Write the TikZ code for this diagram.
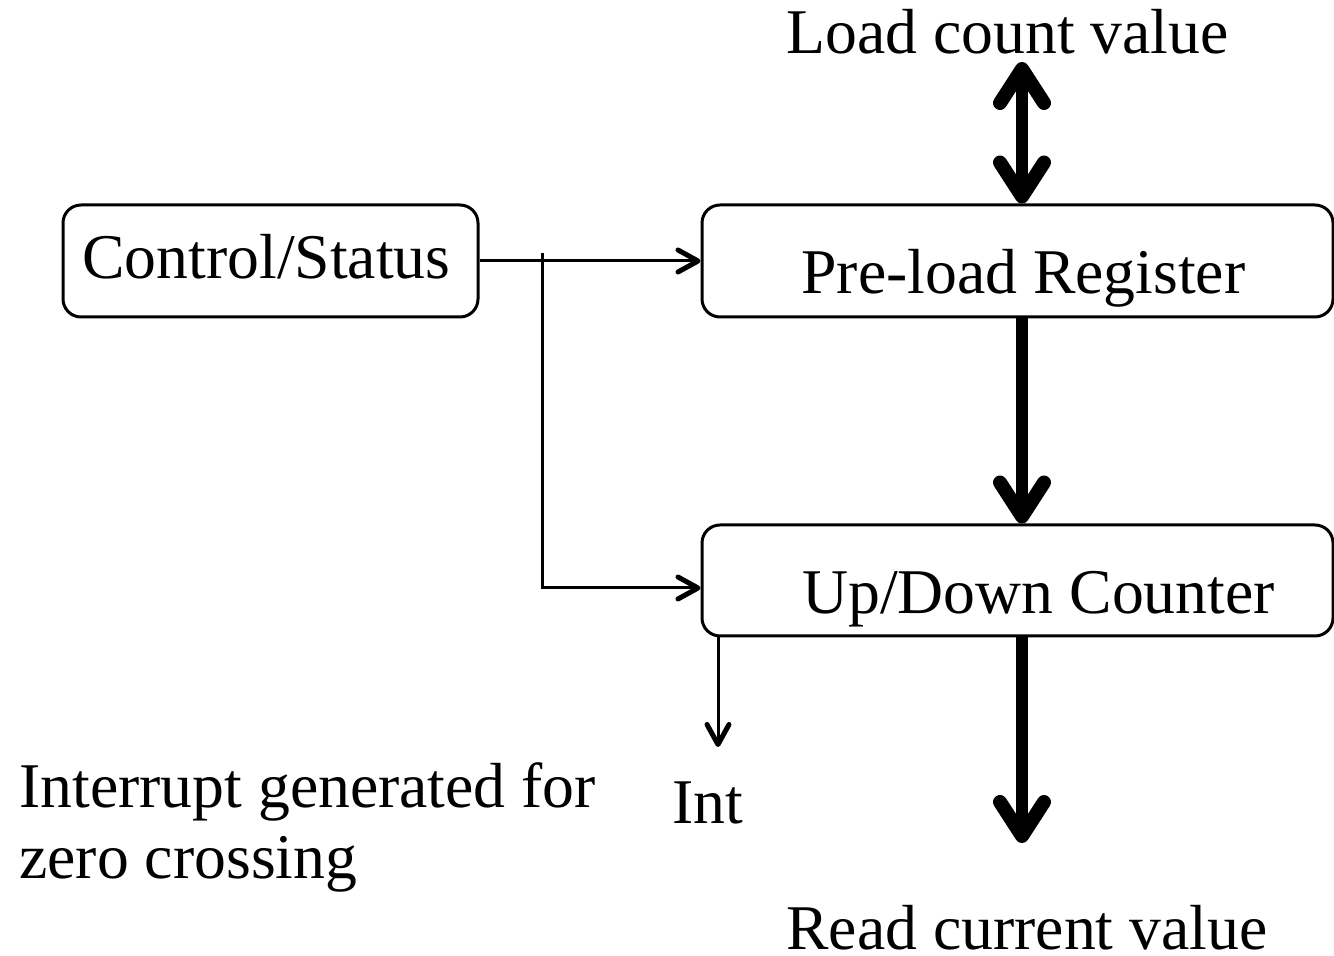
\documentclass[tikz,border=0pt]{standalone}
\usepackage{fontspec}
\setmainfont{Liberation Serif}
\usetikzlibrary{arrows.meta}
\tikzset{
  box/.style={draw, line width=1.5pt, rounded corners=9pt, inner sep=0pt},
  txt/.style={inner sep=0pt, anchor=base west,
    font=\fontsize{31.85pt}{35.5pt}\selectfont},
  thinlink/.style={line width=1.5pt,
    -{Straight Barb[length=10pt,width=11pt,line width=2.5pt,round]}},
  buslink/.style={line width=6pt,
    -{Straight Barb[length=17pt,width=22pt,line width=7pt,round]}},
  busboth/.style={line width=6pt,
    {Straight Barb[length=17pt,width=22pt,line width=7pt,round]}-{Straight Barb[length=17pt,width=22pt,line width=7pt,round]}},
}
\begin{document}
\begin{tikzpicture}[x=0.5pt,y=-0.5pt]
\useasboundingbox (0,0) rectangle (1334,956);

% blocks
\node[box, minimum width=207.5pt, minimum height=56pt] (ctrl) at (270.5,261) {};
\node[box, minimum width=315.5pt, minimum height=56pt] (pre) at (1017.5,261) {};
\node[box, minimum width=315.5pt, minimum height=55.5pt] (cnt) at (1017.5,580.5) {};

% block captions
\node[txt] (ctrltxt) at (82,279) {Control/Status};
\node[txt] (pretxt) at (801,294) {Pre-load Register};
\node[txt] (cnttxt) at (802,614) {Up/Down Counter};

% free texts
\node[txt] (loadtxt) at (786,54) {Load count value};
\node[txt] (readtxt) at (786,949) {Read current value};
\node[txt] (inttxt) at (672,823) {Int};
\node[txt, align=left] (irqtxt) at (19,878) {Interrupt generated for\\zero crossing};

% free ends of connectors
\coordinate (loadtip) at (1022,62);
\coordinate (readtip) at (1022,843);
\coordinate (branch) at (542,253);
\coordinate (inttip) at (718,747);

% control lines
\draw[thinlink] (ctrl) -- (pre);
\draw[thinlink] (branch) |- ([yshift=-3.75pt]cnt.west);
\draw[thinlink] (inttip |- cnt.south) -- (inttip);

% data buses
\draw[busboth] (loadtip) -- (loadtip |- pre.north);
\draw[buslink] (loadtip |- pre.south) -- (loadtip |- cnt.north);
\draw[buslink] (loadtip |- cnt.south) -- (readtip);
\end{tikzpicture}
\end{document}
